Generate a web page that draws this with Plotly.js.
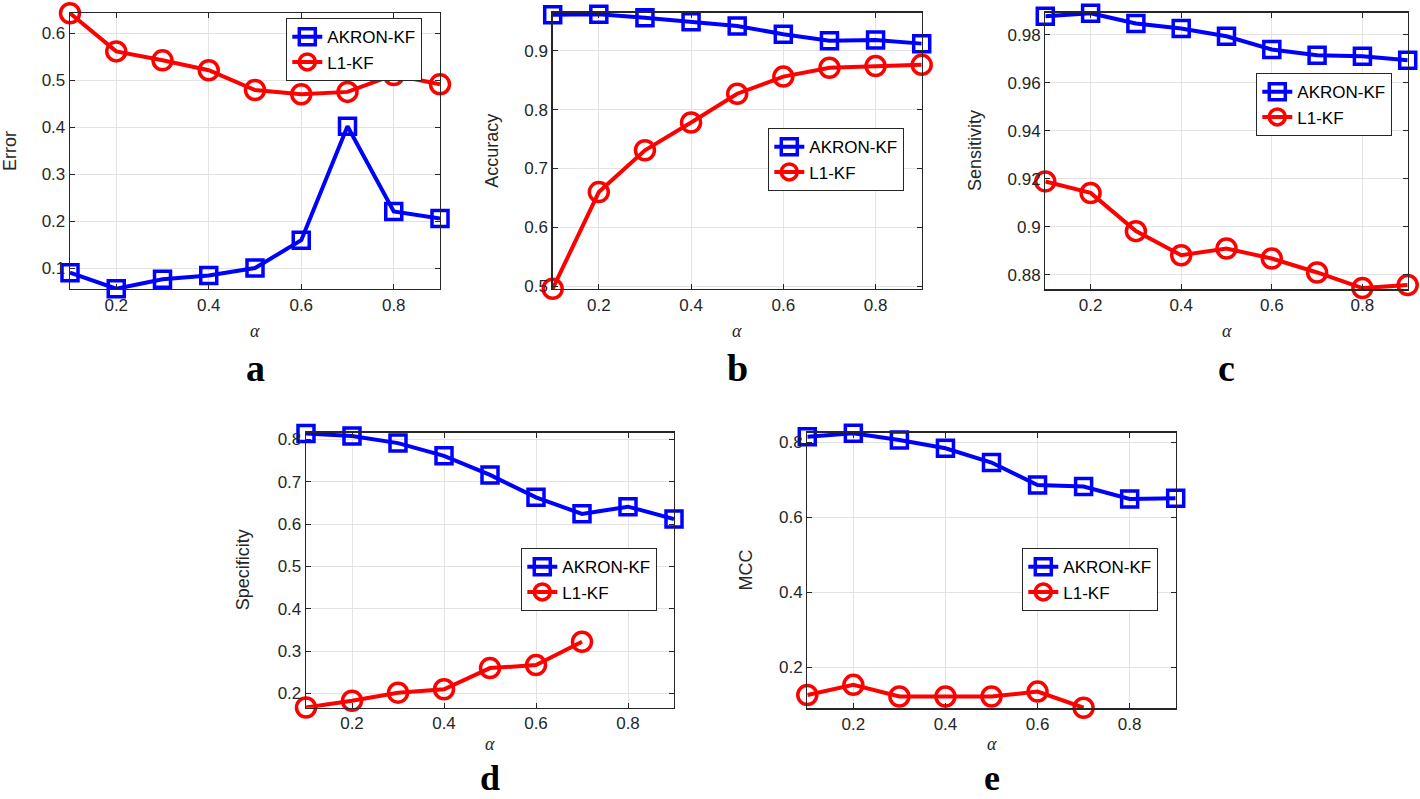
<!DOCTYPE html>
<html>
<head>
<meta charset="utf-8">
<script src="https://cdn.plot.ly/plotly-3.0.1.min.js"></script>
<style>html,body{margin:0;padding:0;background:#fff}#chart{width:1420px;height:799px}</style>
</head>
<body>
<div id="chart"></div>
<script>
const alphaFull = [0.1, 0.2, 0.3, 0.4, 0.5, 0.6, 0.7, 0.8, 0.9];
const alphaShort = [0.1, 0.2, 0.3, 0.4, 0.5, 0.6, 0.7];
const seriesNames = ['AKRON-KF', 'L1-KF'];

const errorAkron = [0.091, 0.057, 0.077, 0.085, 0.101, 0.160, 0.402, 0.221, 0.206];
const errorL1    = [0.642, 0.561, 0.542, 0.521, 0.479, 0.470, 0.475, 0.511, 0.491];

const accuracyAkron = [0.961, 0.962, 0.956, 0.949, 0.942, 0.928, 0.917, 0.918, 0.912];
const accuracyL1    = [0.496, 0.660, 0.731, 0.778, 0.827, 0.856, 0.871, 0.874, 0.876];

const sensitivityAkron = [0.9876, 0.9889, 0.9846, 0.9825, 0.9793, 0.9738, 0.9714, 0.9710, 0.9693];
const sensitivityL1    = [0.9189, 0.9141, 0.8982, 0.8882, 0.8910, 0.8868, 0.8810, 0.8745, 0.8758];

const specificityAkron = [0.814, 0.808, 0.791, 0.761, 0.716, 0.663, 0.624, 0.641, 0.612];
const specificityL1    = [0.167, 0.183, 0.202, 0.210, 0.260, 0.267, 0.322];

const mccAkron = [0.815, 0.824, 0.806, 0.784, 0.746, 0.686, 0.682, 0.649, 0.651];
const mccL1    = [0.126, 0.153, 0.122, 0.122, 0.122, 0.135, 0.092];

const yTitles = ['Error', 'Accuracy', 'Sensitivity', 'Specificity', 'MCC'];
const panelLetters = ['a', 'b', 'c', 'd', 'e'];
const xTicks = [0.2, 0.4, 0.6, 0.8];
const yTicksA = [0.1, 0.2, 0.3, 0.4, 0.5, 0.6];
const yTicksB = [0.5, 0.6, 0.7, 0.8, 0.9];
const yTicksC = [0.88, 0.90, 0.92, 0.94, 0.96, 0.98];
const yTicksD = [0.2, 0.3, 0.4, 0.5, 0.6, 0.7, 0.8];
const yTicksE = [0.2, 0.4, 0.6, 0.8];

const W = 1420, H = 799;
const panels = [
  {px:[70,440],   py:[13,289],    yr:[0.0565,0.6425], ticks:yTicksA, ak:[alphaFull,errorAkron], l1:[alphaFull,errorL1], leg:[286,18],  ytx:10},
  {px:[552.7,921.7], py:[12.7,289], yr:[0.4955,0.9645], ticks:yTicksB, ak:[alphaFull,accuracyAkron], l1:[alphaFull,accuracyL1], leg:[768,128], ytx:492},
  {px:[1045.3,1407.7], py:[12.7,289.3], yr:[0.8740,0.9891], ticks:yTicksC, ak:[alphaFull,sensitivityAkron], l1:[alphaFull,sensitivityL1], leg:[1256,73], ytx:975},
  {px:[306,674], py:[432.7,707.7], yr:[0.1665,0.8156], ticks:yTicksD, ak:[alphaFull,specificityAkron], l1:[alphaShort,specificityL1], leg:[521,548], ytx:243},
  {px:[807.3,1175.7], py:[432.7,708.3], yr:[0.0905,0.8256], ticks:yTicksE, ak:[alphaFull,mccAkron], l1:[alphaShort,mccL1], leg:[1022,548], ytx:745}
];

const axColor = '#262626';
const sans = 'Liberation Sans, Arial, sans-serif';
const serif = 'Liberation Serif, Times New Roman, serif';
const tickFont = {family:sans, size:17, color:axColor};
const data = [];
const layout = {
  width: W, height: H, margin:{l:0,r:0,t:0,b:0},
  paper_bgcolor:'#fff', plot_bgcolor:'#fff', showlegend:true,
  annotations: []
};

panels.forEach((p, i) => {
  const n = i === 0 ? '' : String(i + 1);
  const xa = 'xaxis' + n, ya = 'yaxis' + n, lg = 'legend' + n;
  const common = {
    showline:true, linecolor:axColor, linewidth:1.3, mirror:'ticks',
    ticks:'inside', ticklen:5, tickcolor:axColor, tickwidth:1,
    showgrid:true, gridcolor:'#e3e3e3', gridwidth:1, zeroline:false,
    tickfont: tickFont
  };
  layout[xa] = Object.assign({}, common, {
    domain:[p.px[0]/W, p.px[1]/W], range:[0.1,0.9], tickvals:xTicks, ticktext:xTicks.map(v=>v.toFixed(1)),
    anchor:'y'+n, fixedrange:true
  });
  layout[ya] = Object.assign({}, common, {
    domain:[1-p.py[1]/H, 1-p.py[0]/H], range:p.yr, tickvals:p.ticks, anchor:'x'+n,
    ticktext:p.ticks.map(v=>String(parseFloat(v.toFixed(2)))), fixedrange:true
  });
  layout[lg] = {
    x:p.leg[0]/W, y:1-p.leg[1]/H, xanchor:'left', yanchor:'top', xref:'paper', yref:'paper',
    bgcolor:'#fff', bordercolor:axColor, borderwidth:1.3,
    font:{family:sans, size:17, color:'#000'},
    tracegroupgap:0, itemwidth:30
  };
  data.push({
    x:p.ak[0], y:p.ak[1], name:seriesNames[0], type:'scatter', mode:'lines+markers',
    xaxis:'x'+n, yaxis:'y'+n, legend:lg, cliponaxis:false,
    line:{color:'#0000ff', width:4},
    marker:{symbol:'square-open', size:16, color:'#0000ff', line:{width:3.5, color:'#0000ff'}}
  });
  data.push({
    x:p.l1[0], y:p.l1[1], name:seriesNames[1], type:'scatter', mode:'lines+markers',
    xaxis:'x'+n, yaxis:'y'+n, legend:lg, cliponaxis:false,
    line:{color:'#ff0000', width:4},
    marker:{symbol:'circle-open', size:19, color:'#ff0000', line:{width:3.5, color:'#ff0000'}}
  });
  const cx = (p.px[0]+p.px[1])/2/W;
  const cy = 1 - (p.py[0]+p.py[1])/2/H;
  const bottomRow = i >= 3;
  layout.annotations.push({
    text:yTitles[i], xref:'paper', yref:'paper', x:p.ytx/W, y:cy, showarrow:false, textangle:-90,
    xanchor:'center', yanchor:'middle', borderpad:0, font:{family:sans, size:18, color:axColor}
  });
  layout.annotations.push({
    text:'<i>α</i>', xref:'paper', yref:'paper', x:cx, y:1-(bottomRow ? 744 : p.py[1]+42)/H, showarrow:false,
    xanchor:'center', yanchor:'middle', borderpad:0, font:{family:serif, size:18, color:axColor}
  });
  if (bottomRow) {
    layout.annotations.push({
      text:'<b>'+panelLetters[i]+'</b>', xref:'paper', yref:'paper', x:cx, y:0, showarrow:false,
      xanchor:'center', yanchor:'bottom', borderpad:0, font:{family:serif, size:36, color:'#000'}
    });
  } else {
    layout.annotations.push({
      text:'<b>'+panelLetters[i]+'</b>', xref:'paper', yref:'paper', x:cx, y:1-(p.py[1]+79)/H, showarrow:false,
      xanchor:'center', yanchor:'middle', borderpad:0, font:{family:serif, size:38, color:'#000'}
    });
  }
});

Plotly.newPlot('chart', data, layout, {displayModeBar:false, staticPlot:true});
</script>
</body>
</html>
